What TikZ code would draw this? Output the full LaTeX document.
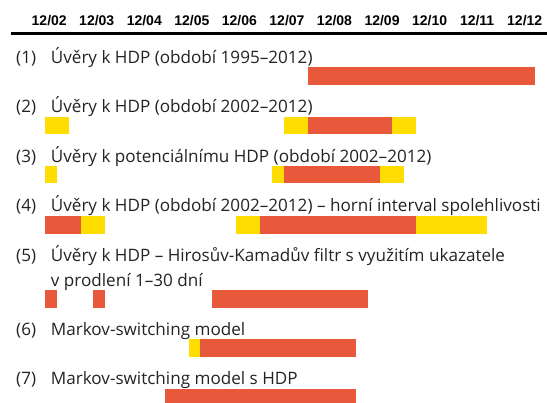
\documentclass[tikz,border=0pt]{standalone}
\usepackage{fontspec}
\setmainfont{Open Sans}
\newfontfamily\headfont{Liberation Sans}
\usepackage{xcolor}
\usepackage{tikz}

\definecolor{barred}{RGB}{232,88,58}
\definecolor{baryellow}{RGB}{255,221,0}
\definecolor{txtgray}{RGB}{35,35,35}

% one bar of quarters #2..#3, top edge at #4
\newcommand{\qbar}[4]{\fill[#1] (#2,#4) rectangle (#3,#4+17.7);}

\begin{document}
\begin{tikzpicture}[x=1pt, y=-1pt,
    datelbl/.style={anchor=base, inner sep=0pt, font=\headfont\bfseries\fontsize{14}{16}\selectfont},
    rowno/.style={anchor=base west, inner sep=0pt, text=txtgray, font=\fontsize{17.1}{20}\selectfont},
    rowlbl/.style={rowno},
    hit/.style={fill=barred},
    edge/.style={fill=baryellow}]
    \useasboundingbox (0,0) rectangle (547,403);
    % Dates on top
    \foreach \yr [count=\i from 0] in {02,03,04,05,06,07,08,09,10,11,12}
        \node[datelbl] (d\yr) at (49.2+47.55*\i, 26) {12/\yr};
    \draw[line width=2.7pt] (10.7,33.3) -- (547,33.3);
    % Row labels
    \node[rowno] (n1) at (16,63.7) {(1)};
    \node[rowlbl] (m1) at (50.7,63.7) {Úvěry k HDP (období 1995–2012)};
    \node[rowno] (n2) at (16,113) {(2)};
    \node[rowlbl] (m2) at (50.7,113) {Úvěry k HDP (období 2002–2012)};
    \node[rowno] (n3) at (16,162.5) {(3)};
    \node[rowlbl] (m3) at (50.7,162.5) {Úvěry k potenciálnímu HDP (období 2002–2012)};
    \node[rowno] (n4) at (16,212) {(4)};
    \node[rowlbl] (m4) at (50.7,212) {Úvěry k HDP (období 2002–2012) – horní interval spolehlivosti};
    \node[rowno] (n5) at (16,262) {(5)};
    \node[rowlbl] (m5) at (50.7,262) {Úvěry k HDP – Hirosův-Kamadův filtr s využitím ukazatele};
    \node[rowlbl] (m5b) at (50.7,286.3) {v prodlení 1–30 dní};
    \node[rowno] (n6) at (16,335.5) {(6)};
    \node[rowlbl] (m6) at (50.7,335.5) {Markov-switching model};
    \node[rowno] (n7) at (16,385) {(7)};
    \node[rowlbl] (m7) at (50.7,385) {Markov-switching model s HDP};
    % Bars, one unit is one quarter
    \begin{scope}[xshift=45.1pt, x=11.95pt]
        \qbar{hit}{22}{41}{66.9}
        \qbar{edge}{0}{2}{116.6}
        \qbar{edge}{20}{22}{116.6}
        \qbar{hit}{22}{29}{116.6}
        \qbar{edge}{29}{31}{116.6}
        \qbar{edge}{0}{1}{165.8}
        \qbar{edge}{19}{20}{165.8}
        \qbar{hit}{20}{28}{165.8}
        \qbar{edge}{28}{30}{165.8}
        \qbar{hit}{0}{3}{216}
        \qbar{edge}{3}{5}{216}
        \qbar{edge}{16}{18}{216}
        \qbar{hit}{18}{31}{216}
        \qbar{edge}{31}{37}{216}
        \qbar{hit}{0}{1}{290}
        \qbar{hit}{4}{5}{290}
        \qbar{hit}{14}{27}{290}
        \qbar{edge}{12}{13}{339.5}
        \qbar{hit}{13}{26}{339.5}
        \qbar{hit}{10}{26}{389}
    \end{scope}
\end{tikzpicture}
\end{document}
